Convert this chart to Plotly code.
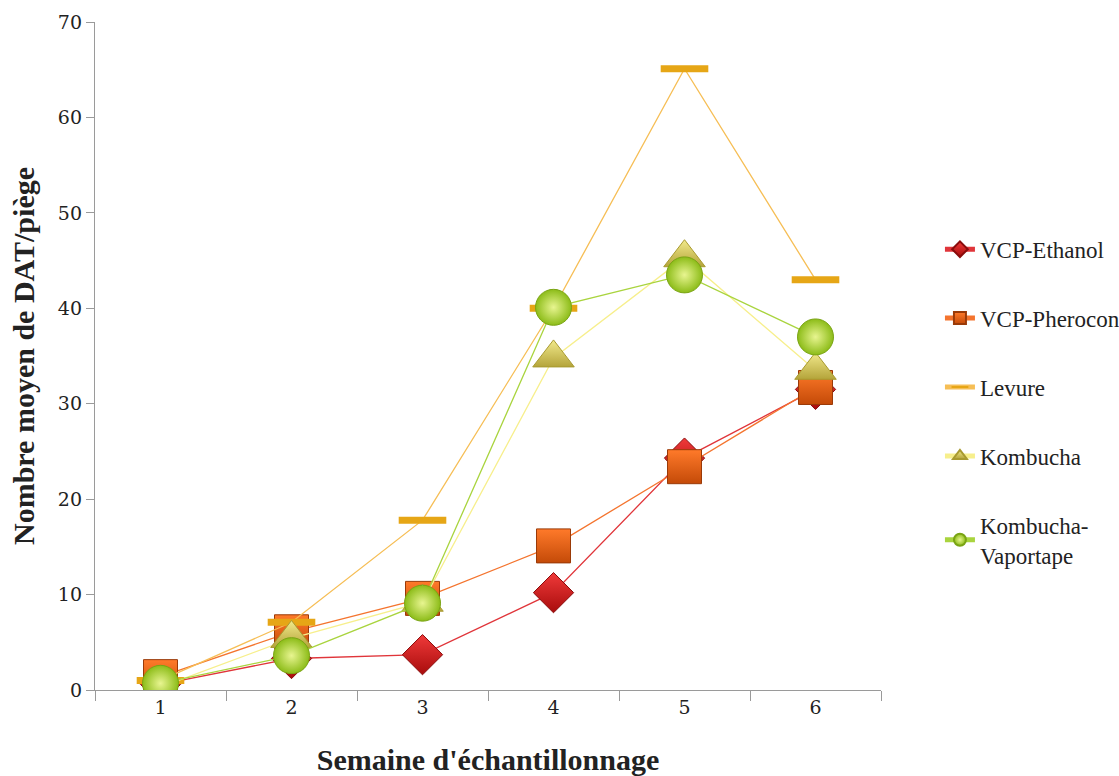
import plotly.graph_objects as go

weeks = [1, 2, 3, 4, 5, 6]
week_labels = ["1", "2", "3", "4", "5", "6"]

vcp_ethanol = [0.6, 3.3, 3.7, 10.2, 24.3, 31.5]
vcp_pherocon = [1.4, 6.1, 9.6, 15.1, 23.4, 31.7]
levure = [1.0, 7.1, 17.8, 40.0, 65.1, 43.0]
kombucha = [0.3, 5.4, 9.2, 34.8, 45.3, 33.5]
kombucha_vaportape = [0.7, 3.6, 9.1, 40.1, 43.5, 37.0]

tick_font = "DejaVu Serif"
text_font = "Liberation Serif"
ink = "#222222"
axis_grey = "#9a9a9a"

# name, values, line colour, marker style
series = [
    ("VCP-Ethanol", vcp_ethanol, "#e0353a",
     dict(symbol="diamond", size=31, color="#f03a3a",
          gradient=dict(type="vertical", color="#a80c0c"),
          line=dict(color="#8a0c0c", width=1))),
    ("VCP-Pherocon", vcp_pherocon, "#f4742e",
     dict(symbol="square", size=34, color="#ff7a2a",
          gradient=dict(type="vertical", color="#c44a08"),
          line=dict(color="#9a3a08", width=1))),
    ("Levure", levure, "#f6be55",
     dict(symbol="line-ew", size=34, line=dict(color="#e6a616", width=7))),
    ("Kombucha", kombucha, "#f7ef8c",
     dict(symbol="triangle-up", size=36, color="#f2ea8c",
          gradient=dict(type="vertical", color="#b4a43a"),
          line=dict(color="#a89a30", width=1))),
    ("Kombucha-<br>Vaportape", kombucha_vaportape, "#a9d43e",
     dict(symbol="circle", size=36, color="#8cbc18",
          gradient=dict(type="radial", color="#e8f590"),
          line=dict(color="#7aa414", width=1))),
]

fig = go.Figure()
for name, values, line_color, marker in series:
    fig.add_trace(go.Scatter(
        x=weeks, y=values, name=name, mode="lines+markers",
        line=dict(color=line_color, width=1.3),
        marker=marker, legendgroup=name,
    ))

fig.update_layout(
    width=1119, height=776,
    margin=dict(l=95, r=238, t=22, b=86, autoexpand=False),
    paper_bgcolor="white", plot_bgcolor="white",
    font=dict(family=tick_font, size=19, color=ink),
    showlegend=True,
    legend=dict(x=1.075, y=0.692, xanchor="left", yanchor="top",
                font=dict(family=text_font, size=23, color=ink),
                tracegroupgap=36, itemsizing="constant", itemwidth=30,
                bgcolor="rgba(0,0,0,0)"),
    xaxis=dict(
        range=[0.5, 6.5], tickmode="array", tickvals=weeks, ticktext=week_labels,
        ticks="", showgrid=False, zeroline=False, automargin=False,
        showline=True, linecolor=axis_grey, linewidth=1.3,
        minor=dict(tick0=0.5, dtick=1, ticks="outside", ticklen=10,
                   tickcolor=axis_grey, tickwidth=1.3, showgrid=False),
        tickfont=dict(family=tick_font, size=19, color=ink),
        title=dict(text="<b>Semaine d'échantillonnage</b>",
                   font=dict(family=text_font, size=30, color=ink),
                   standoff=34),
    ),
    yaxis=dict(
        range=[0, 70], dtick=10, ticks="outside", ticklen=8,
        tickcolor=axis_grey, tickwidth=1.3, showgrid=False, zeroline=False,
        automargin=False,
        showline=True, linecolor=axis_grey, linewidth=1.3,
        tickfont=dict(family=tick_font, size=19, color=ink),
        title=dict(text="<b>Nombre moyen de DAT/piège</b>",
                   font=dict(family=text_font, size=30, color=ink),
                   standoff=14),
    ),
)

fig.write_html("out.html")
